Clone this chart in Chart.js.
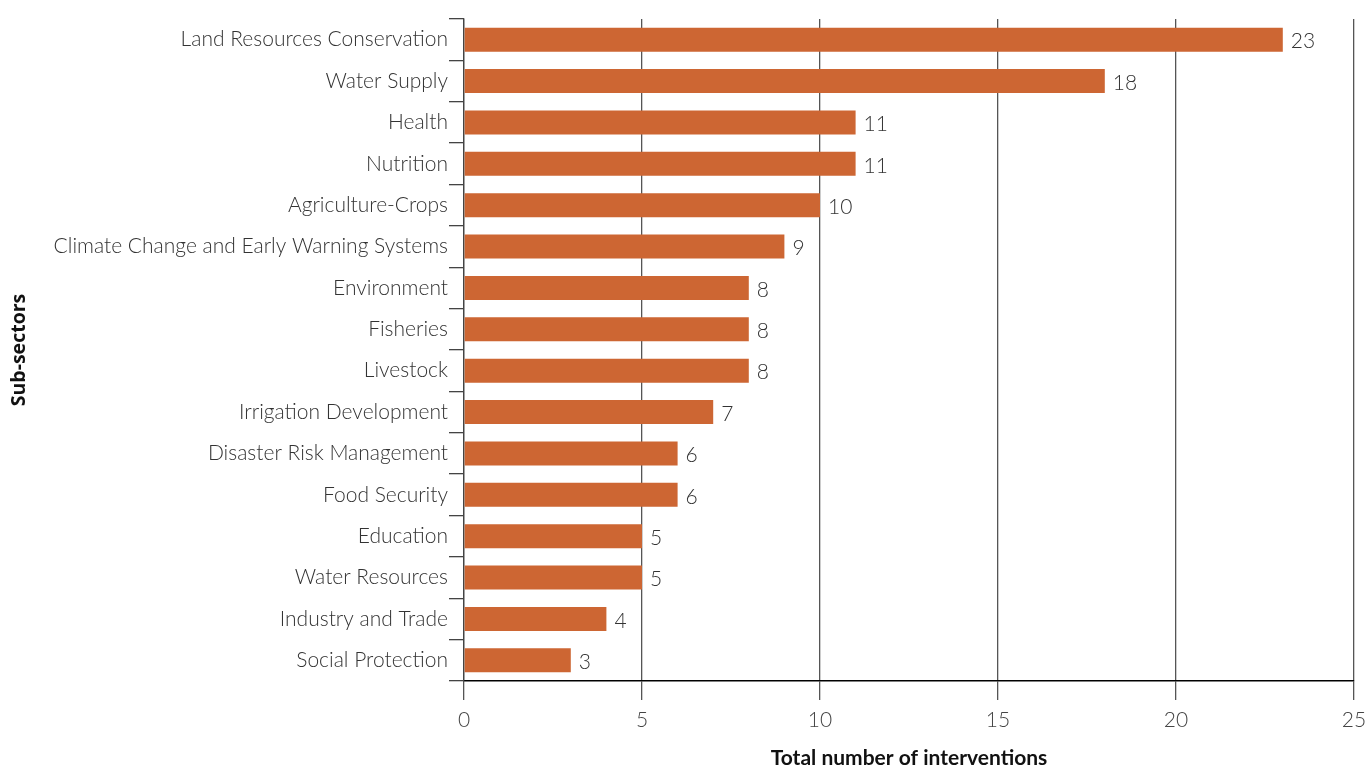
<!DOCTYPE html>
<html>
<head>
<meta charset="utf-8">
<script src="https://cdn.jsdelivr.net/npm/chart.js@4"></script>
<style>
  html, body { margin: 0; padding: 0; background: #fff; }
  #wrap { width: 1369px; height: 769px; }
</style>
</head>
<body>
<div id="wrap"><canvas id="subsectorChart" width="1369" height="769"></canvas></div>
<script>
// sub-sectors and number of interventions
const subSectors = [
    'Land Resources Conservation', 'Water Supply', 'Health', 'Nutrition',
    'Agriculture-Crops', 'Climate Change and Early Warning Systems', 'Environment',
    'Fisheries', 'Livestock', 'Irrigation Development', 'Disaster Risk Management',
    'Food Security', 'Education', 'Water Resources', 'Industry and Trade', 'Social Protection'
];
const interventions = [23, 18, 11, 11, 10, 9, 8, 8, 8, 7, 6, 6, 5, 5, 4, 3];
const xTicks = [0, 5, 10, 15, 20, 25];

const labelFont = { family: 'Lato', size: 21, weight: 300 };

// write the value next to the end of each bar
const valueLabels = {
    id: 'valueLabels',
    afterDatasetsDraw(chart) {
        const ctx = chart.ctx;
        const meta = chart.getDatasetMeta(0);
        ctx.save();
        ctx.font = '300 21px Lato';
        ctx.fillStyle = '#333';
        ctx.textAlign = 'left';
        ctx.textBaseline = 'middle';
        meta.data.forEach((bar, i) => {
            ctx.fillText(interventions[i], bar.x + 8, bar.y + 2);
        });
        ctx.restore();
    }
};

const ctx = document.getElementById('subsectorChart').getContext('2d');
new Chart(ctx, {
    type: 'bar',
    data: {
        labels: subSectors,
        datasets: [{
            data: interventions,
            backgroundColor: '#CD6633',
            barPercentage: 0.58,
            categoryPercentage: 1
        }]
    },
    options: {
        indexAxis: 'y',
        responsive: false,
        animation: false,
        layout: { padding: { top: 19, right: 15, left: 0, bottom: 0 } },
        scales: {
            x: {
                min: 0,
                max: 25,
                afterBuildTicks: axis => { axis.ticks = xTicks.map(v => ({ value: v })); },
                afterFit: axis => {
                    axis.height = 769 - 681;
                    axis.paddingLeft = 0;
                    axis.paddingRight = 0;
                },
                border: { display: true, color: '#000', width: 1.5 },
                grid: { color: '#555', lineWidth: 1.3, tickLength: 19 },
                ticks: { color: '#444', font: labelFont, padding: 8 },
                title: {
                    display: true,
                    text: 'Total number of interventions',
                    color: '#111',
                    font: { family: 'Lato', size: 21, weight: 'bold', lineHeight: 1 },
                    padding: { top: 0, bottom: 0 }
                }
            },
            y: {
                afterFit: axis => { axis.width = 464; },
                border: { display: true, color: '#444', width: 1.3 },
                grid: { drawOnChartArea: false, drawTicks: true, tickLength: 15, color: '#444', lineWidth: 1.3 },
                ticks: { color: '#333', font: labelFont, padding: 1, autoSkip: false },
                title: {
                    display: true,
                    text: 'Sub-sectors',
                    color: '#111',
                    font: { family: 'Open Sans', size: 19.5, weight: 'bold' },
                    padding: { top: 8, bottom: 0 }
                }
            }
        },
        plugins: {
            legend: { display: false },
            tooltip: { enabled: false }
        }
    },
    plugins: [valueLabels]
});
</script>
</body>
</html>
